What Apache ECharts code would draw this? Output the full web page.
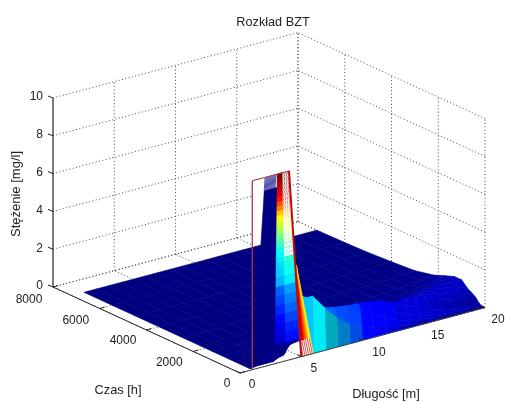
<!DOCTYPE html>
<html><head><meta charset="utf-8">
<style>html,body{margin:0;padding:0;background:#fff}#c{width:505px;height:402px}</style>
<script src="https://cdn.jsdelivr.net/npm/echarts@6/dist/echarts.min.js"></script>
</head><body><div id="c"></div>
<script>
const titleText = 'Rozkład BZT';
const xLabel = 'Długość [m]', tLabel = 'Czas [h]', zLabel = 'Stężenie [mg/l]';
const xTicks = [0,5,10,15,20];
const tTicks = [0,2000,4000,6000,8000];
const zTicks = [0,2,4,6,8,10];
const xCols = [1,2,3,4,5,6,7,8,9,10,11,12,13,14,15,16,17,18,19,20];
const tRows = [0,40,100,160,250,400,550,750,1000,1300,1700,2200,3000,4000,5000,6000,7200];
const zRows = [
[10,10,10,10,0,0,0,0,0,0,0,0,0,0,0,0,0,0,0,0],
[.5,.6,.9,1.3,3,3,2.2,1.5,1,.7,.5,.35,.2,.12,.06,.03,.01,0,0,0],
[0,.1,.1,.8,3.2,2.8,2.2,2,1.9,1.6,1.2,.8,.5,.3,.15,.08,.04,.02,.01,.01],
[0,0,0,.3,2,2.2,2.1,2,1.9,1.8,1.6,1.3,.9,.6,.35,.2,.1,.05,.03,.02],
[0,0,0,.1,1,1.4,1.6,1.7,1.8,1.8,1.7,1.6,1.2,1,.75,.45,.25,.13,.07,.1],
[0,0,0,.05,.5,.7,.9,1.1,1.3,1.4,1.5,1.4,1.25,1.2,1.1,.9,.75,.55,.4,.32],
[0,0,0,.03,.3,.4,.5,.6,.75,.85,1,1.1,1.1,1.1,1.1,1.05,.95,.8,.6,.45],
[0,0,0,.02,.2,.25,.3,.35,.45,.5,.6,.7,.8,.9,.95,1,1,.95,.85,.6],
[0,0,0,0,.1,.15,.2,.25,.3,.33,.38,.43,.5,.55,.65,.75,.85,.95,.9,.9],
[0,0,0,0,.08,.1,.13,.16,.2,.22,.25,.28,.32,.36,.42,.5,.6,.75,.85,.9],
[0,0,0,0,.05,.07,.09,.1,.12,.14,.16,.18,.2,.22,.26,.3,.38,.48,.6,.72],
[0,0,0,0,.03,.05,.06,.07,.08,.09,.1,.11,.13,.15,.17,.2,.25,.3,.38,.47],
[0,0,0,0,.02,.03,.04,.05,.05,.06,.06,.07,.08,.09,.1,.12,.14,.17,.2,.25],
[0,0,0,0,.01,.02,.02,.03,.03,.04,.04,.05,.05,.06,.06,.07,.08,.1,.12,.15],
[0,0,0,0,0,.01,.01,.01,.02,.02,.02,.03,.03,.03,.04,.04,.05,.05,.06,.07],
[0,0,0,0,0,0,0,.01,.01,.01,.01,.01,.01,.02,.02,.02,.02,.02,.03,.03],
[0,0,0,0,0,0,0,0,0,0,0,0,0,0,0,0,0,0,0,0]
];
// first-step fans of the peak (x <= 6, t ~ 0)
const fanTopX = [2.05,2.13,2.21,2.29,2.37,2.45,2.53,2.61,2.69,2.77,2.85,2.93,3.05];
const fanLowX = [1.98,2.06,2.14,2.22,2.3,2.38,2.46,2.54,2.62,2.7,2.78,2.86,3.05];
const bandZ = [10,9.75,9.5,9.25,9,8.75,8.5,8.25,8,7.75,7.5,7.25,7,6.75,6.5,6.25,6,5.75,5.5,5.25,5,4.5,4,3.5,3,2.5,2,1.5,1];
const bandC = [10,9.8,9.5,9.3,9,8.6,8,7.5,6.8,6.3,5.8,5.5,5.2,4.8,4.5,4.2,3.8,3.7,3.6,3.4,3.3,3,2.2,1.9,1.6,1.3,1,.8,.6];
const stripeX = [5,5.2,5.4,5.6,5.8,6];
const stripeC = [9.6,8.8,8,7.2,6.4,5.6];
const footX = [5.1,5.25,5.4,5.55,5.7,5.85];
// front faces next to the stripe, x = 6..9
const frontBand = [[0,235,245],[0,170,190],[0,125,200],[0,75,225]];

// orthographic projection of (x,t,z) on the page plane
function P(x,t,z){
  return [240+12.25*x-187*t/8000, 373-3.27*x-86*t/8000-18.9*z];
}
function jet(v){
  const s=Math.max(0,Math.min(1,v/10));
  const f=(a)=>Math.round(255*Math.max(0,Math.min(1,1.5-Math.abs(4*s-a))));
  return [f(3),f(2),f(1)];
}
const rgb=c=>`rgb(${c[0]},${c[1]},${c[2]})`;
const marks=[];
const line=(a,b,color,width,dash)=>marks.push({k:'l',pts:[a,b],color,width,dash});
const poly=(pts,fill,stroke,width)=>marks.push({k:'p',pts,fill,stroke:stroke||fill,width:width==null?.6:width});
const text=(p,dx,dy,s,rot,align,size)=>marks.push({k:'t',p,dx,dy,s,rot:rot||0,align:align||'center',size:size||12});

// box grid
const gridC='#4a4a4a', dash=[1,2.4];
xTicks.forEach(x=>{ if(x>0) line(P(x,8000,0),P(x,8000,10),gridC,1,dash); line(P(x,0,0),P(x,8000,0),gridC,1,dash); });
tTicks.forEach(t=>{ line(P(20,t,0),P(20,t,10),gridC,1,dash); line(P(0,t,0),P(20,t,0),gridC,1,dash); });
zTicks.forEach(z=>{ line(P(0,8000,z),P(20,8000,z),gridC,1,dash); line(P(20,0,z),P(20,8000,z),gridC,1,dash); });

// white face under the peak
poly([P(1,0,10),P(4,0,10),P(4.72,0,2.6),P(1,0,.6)],'#fff','#fff',0);

// surface, far to near
for(let j=tRows.length-2;j>=0;j--){
  for(let i=xCols.length-2;i>=0;i--){
    if(j===0&&i<4) continue;
    let cz=j<4?Math.max(zRows[j+1][i],zRows[j+2][i],zRows[j+3][i]):zRows[j+1][i];
    if(i>=9) cz*=.72;
    let c=jet(cz);
    if(j===0&&i>=5&&i<=8) c=frontBand[i-5];
    poly([P(xCols[i],tRows[j],zRows[j][i]),P(xCols[i+1],tRows[j],zRows[j][i+1]),
          P(xCols[i+1],tRows[j+1],zRows[j+1][i+1]),P(xCols[i],tRows[j+1],zRows[j+1][i])],rgb(c));
  }
}
// peak: navy part
const navy=rgb(jet(0));
poly([P(1.98,0,9.3),P(3.05,0,9.3),P(3,0,5.3),P(2.86,0,.9),P(1.14,0,.6),P(1.22,0,1.53)],navy);
fanTopX.forEach((x,i)=>line(P(x,0,10),P(fanLowX[i],0,9.3),'#2a2a90',.8));
// peak: colored bands
for(let k=0;k<bandZ.length-1;k++){
  const z0=bandZ[k],z1=bandZ[k+1];
  const lx=z=>3.05-(10-z)*.02, rx=z=>4+(10-z)/10;
  const mx=z=>lx(z)+(rx(z)-lx(z))*.42;
  poly([P(lx(z0),0,z0),P(mx(z0),0,z0),P(mx(z1),0,z1),P(lx(z1),0,z1)],rgb(jet(bandC[k])));
  const cR=rgb(jet(bandC[k]+.6));
  if(z0>5.5){
    poly([P(mx(z0),0,z0),P(rx(z0),0,z0),P(rx(z1),0,z1),P(mx(z1),0,z1)],'#fff','#fff',0);
    for(let q=0;q<4;q++){
      const a=q/4;
      const xa=mx(z0)+(rx(z0)-mx(z0))*a, xb=mx(z1)+(rx(z1)-mx(z1))*(a+.12);
      line(P(xa,0,z0),P(xb,0,z1),cR,.55);
    }
  } else {
    poly([P(mx(z0),0,z0),P(rx(z0),0,z0),P(rx(z1),0,z1),P(mx(z1),0,z1)],cR);
  }
}
// stripe descending to the floor
for(let k=0;k<stripeX.length-1;k++){
  poly([P(4.6,0,4.9),P(stripeX[k],0,0),P(stripeX[k+1],0,0)],rgb(jet(stripeC[k])));
}
// foot of the stripe
poly([P(4.95,0,.85),P(5.7,0,.85),P(5.95,0,0),P(5,0,0)],'#fff','#fff',0);
footX.forEach(x=>line(P(x-.2,0,.85),P(x+.05,0,0),'#c83030',.8));
// t=0 outline
const edge='#a83c3c';
line(P(1,0,0),P(1,0,10),edge,1.3);
line(P(1,0,10),P(4,0,10),edge,1.1);
line(P(4,0,10),P(5,0,0),'#c00a0a',2);

// axes
const ax='#222';
line(P(0,8000,0),P(0,8000,10),ax,1.2);
line(P(0,8000,0),P(0,0,0),ax,1);
line(P(0,0,0),P(20,0,0),'#444',1);
const off=(p,dx,dy)=>[p[0]+dx,p[1]+dy];
zTicks.forEach(z=>{const p=P(0,8000,z); line(p,off(p,-5,-2),ax,1); text(p,-10,-1,String(z),0,'right');});
tTicks.forEach(t=>{const p=P(0,t,0); line(p,off(p,5,-1.5),ax,1);});
xTicks.forEach(x=>{const p=P(x,0,0); line(p,off(p,-4,-2),ax,1);});
const tOff={0:[-13,11],2000:[-24,11.5],4000:[-23.5,11],6000:[-24,12.5],8000:[-24,13]};
tTicks.forEach(t=>{const o=tOff[t]; text(P(0,t,0),o[0],o[1],String(t));});
const xOff={0:[12,12],5:[12.7,12.3],10:[16.5,12.7],15:[14,12],20:[13,12.4]};
xTicks.forEach(x=>{const o=xOff[x]; text(P(x,0,0),o[0],o[1],String(x));});
text([118,390],0,0,tLabel,0,'center',12.8);
text([386,394],0,0,xLabel,0,'center',12.8);
text([16,194],0,0,zLabel,Math.PI/2,'center',13);

const option={
  animation:false,
  title:{text:titleText,left:268,top:11,textAlign:'center',
    textStyle:{fontFamily:'Liberation Sans',fontSize:12.7,fontWeight:'normal',color:'#222'}},
  grid:{left:0,right:0,top:0,bottom:0},
  xAxis:{type:'value',min:0,max:505,show:false},
  yAxis:{type:'value',min:0,max:402,inverse:true,show:false},
  series:[{
    type:'custom',coordinateSystem:'cartesian2d',clip:false,silent:true,progressive:0,
    data:marks.map((m,i)=>[i]),
    encode:{x:0},
    renderItem(params,api){
      const m=marks[params.dataIndex];
      if(m.k==='t'){
        const c=api.coord(m.p);
        return {type:'text',x:c[0]+m.dx,y:c[1]+m.dy,rotation:m.rot,
          style:{text:m.s,fill:'#222',font:m.size+'px "Liberation Sans"',align:m.align,verticalAlign:'middle'}};
      }
      const pts=m.pts.map(p=>api.coord(p));
      if(m.k==='l') return {type:'line',shape:{x1:pts[0][0],y1:pts[0][1],x2:pts[1][0],y2:pts[1][1]},
        style:{stroke:m.color,lineWidth:m.width,lineDash:m.dash||null}};
      return {type:'polygon',shape:{points:pts},style:{fill:m.fill,stroke:m.stroke,lineWidth:m.width}};
    }
  }]
};
const chart=echarts.init(document.getElementById('c'),null,{renderer:'canvas'});
chart.setOption(option);
</script></body></html>
